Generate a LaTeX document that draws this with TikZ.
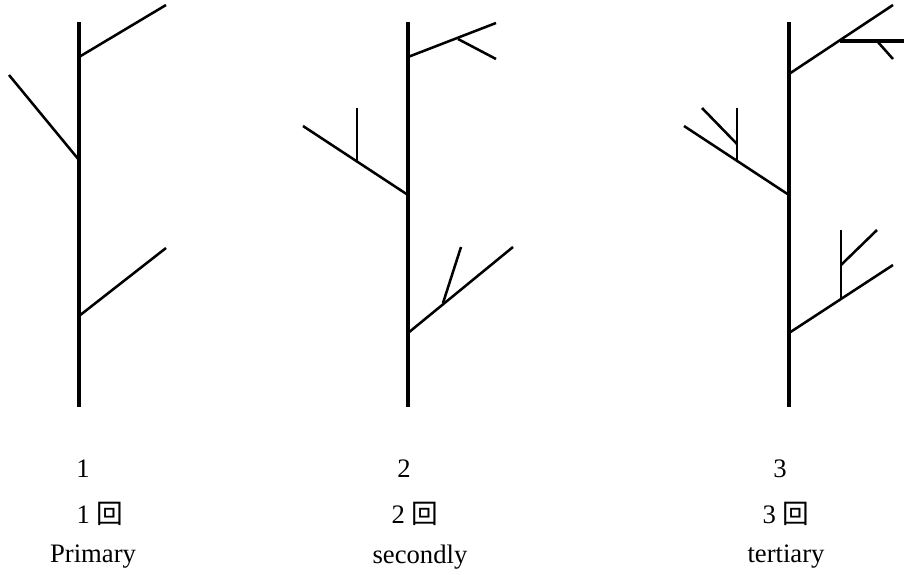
\documentclass[tikz,border=0pt]{standalone}
\usepackage{fontspec}
\setmainfont{Liberation Serif}
\newfontfamily\cjk{Noto Sans CJK JP}
\usepackage{tikz}

\begin{document}
\begin{tikzpicture}[x=0.75pt, y=-0.75pt,
		trunkline/.style={line width=3pt},
		twigline/.style={line width=1.9pt},
		label/.style={font=\fontsize{20}{24}\selectfont, inner sep=0pt}]
			%%%%% START %%%%%
			
			\useasboundingbox (0, 0) rectangle (904, 575);
			
			% primary
			\draw[trunkline] (79, 22) -- (79, 407);
			\draw[twigline] (79, 57) -- (166, 5);
			\draw[twigline] (79, 160) -- (9, 75);
			\draw[twigline] (79, 316) -- (166, 248);
			
			% secondly
			\draw[trunkline] (408, 22) -- (408, 407);
			\draw[twigline] (408, 57) -- (496, 23);
			\draw[twigline] (458, 39) -- (496, 59);
			\draw[twigline] (408, 195) -- (303, 126);
			\draw[twigline] (357, 162) -- (357, 108);
			\draw[twigline] (408, 333) -- (513, 247);
			\draw[twigline] (443, 303) -- (461, 247);
			
			% tertiary
			\draw[trunkline] (789, 22) -- (789, 407);
			\draw[twigline] (789, 74) -- (893, 5);
			\draw[line width=2.6pt] (840, 41) -- (904, 41);
			\draw[twigline] (877, 41) -- (893, 59);
			\draw[twigline] (789, 195) -- (684, 126);
			\draw[twigline] (737, 162) -- (737, 108);
			\draw[twigline] (737, 144) -- (702, 108);
			\draw[twigline] (789, 333) -- (893, 265);
			\draw[twigline] (841, 300) -- (841, 230);
			\draw[twigline] (841, 265) -- (877, 230);
			
			% labels
			\node[label] (num1) at (83, 469) {1};
			\node[label] (kai1) at (100, 514) {1 {\cjk 回}};
			\node[label] (name1) at (93, 557) {Primary};
			
			\node[label] (num2) at (404, 469) {2};
			\node[label] (kai2) at (415, 514) {2 {\cjk 回}};
			\node[label] (name2) at (420, 557) {secondly};
			
			\node[label] (num3) at (780, 469) {3};
			\node[label] (kai3) at (786, 514) {3 {\cjk 回}};
			\node[label] (name3) at (786, 557) {tertiary};
			
			%%%%% END %%%%%
		\end{tikzpicture}
\end{document}
